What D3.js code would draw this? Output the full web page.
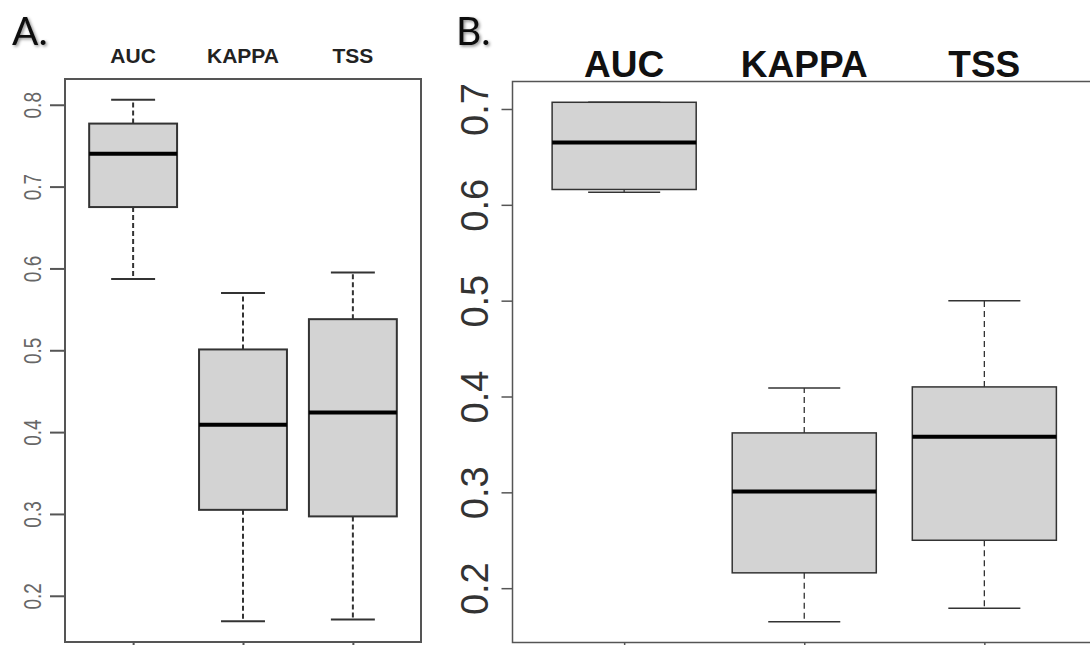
<!DOCTYPE html>
<html>
<head>
<meta charset="utf-8">
<script src="https://cdn.jsdelivr.net/npm/d3@7"></script>
<style>
  html, body { margin: 0; padding: 0; background: #fff; }
  svg { display: block; }
</style>
</head>
<body>
<svg id="chart" width="1090" height="645"></svg>
<script>
// Metric names shared by both panels
const categories = ["AUC", "KAPPA", "TSS"];

// Panel A: five-number summaries per metric
const aLow    = [0.587, 0.169, 0.171];
const aQ1     = [0.675, 0.305, 0.297];
const aMedian = [0.740, 0.409, 0.424];
const aQ3     = [0.777, 0.501, 0.538];
const aHigh   = [0.806, 0.570, 0.595];
const aTicks  = [0.2, 0.3, 0.4, 0.5, 0.6, 0.7, 0.8];

// Panel B: five-number summaries per metric
const bLow    = [0.613, 0.165, 0.179];
const bQ1     = [0.616, 0.216, 0.250];
const bMedian = [0.665, 0.301, 0.358];
const bQ3     = [0.707, 0.362, 0.410];
const bHigh   = [0.707, 0.409, 0.500];
const bTicks  = [0.2, 0.3, 0.4, 0.5, 0.6, 0.7];

const svg = d3.select("#chart");
svg.append("rect").attr("width", 1090).attr("height", 645).attr("fill", "#fff");

// soft shadow used on the panel letters
const defs = svg.append("defs");
const shadow = defs.append("filter").attr("id", "soft").attr("x", "-20%").attr("y", "-20%")
  .attr("width", "150%").attr("height", "150%");
shadow.append("feDropShadow").attr("dx", 1.5).attr("dy", 1.5).attr("stdDeviation", 1.4)
  .attr("flood-color", "#000").attr("flood-opacity", 0.45);

function rows(low, q1, med, q3, high) {
  return categories.map((c, i) => ({ c, i: i + 1, low: low[i], q1: q1[i], med: med[i], q3: q3[i], high: high[i] }));
}

function panel(cfg) {
  const data = rows(...cfg.stats);
  const lo = d3.min(data, d => d.low), hi = d3.max(data, d => d.high);
  const pad = (hi - lo) * 0.04;
  const y = d3.scaleLinear().domain([lo - pad, hi + pad]).range([cfg.bottom, cfg.top]);
  const x = d3.scaleLinear().domain([0.5 - 0.12, categories.length + 0.5 + 0.12]).range([cfg.left, cfg.right]);
  const bw = (x(1.4) - x(1.0)); // half box width
  const g = svg.append("g");

  const box = g.selectAll("g.box").data(data).join("g").attr("class", "box");

  // dashed whiskers
  box.append("line")
    .attr("x1", d => x(d.i)).attr("x2", d => x(d.i))
    .attr("y1", d => y(d.q3)).attr("y2", d => y(d.high))
    .attr("stroke", cfg.ink).attr("stroke-width", cfg.whiskerWidth).attr("stroke-dasharray", cfg.dash);
  box.append("line")
    .attr("x1", d => x(d.i)).attr("x2", d => x(d.i))
    .attr("y1", d => y(d.q1)).attr("y2", d => y(d.low))
    .attr("stroke", cfg.ink).attr("stroke-width", cfg.whiskerWidth).attr("stroke-dasharray", cfg.dash);
  // staples
  box.append("line")
    .attr("x1", d => x(d.i) - bw / 2).attr("x2", d => x(d.i) + bw / 2)
    .attr("y1", d => y(d.high)).attr("y2", d => y(d.high))
    .attr("stroke", cfg.ink).attr("stroke-width", cfg.stapleWidth);
  box.append("line")
    .attr("x1", d => x(d.i) - bw / 2).attr("x2", d => x(d.i) + bw / 2)
    .attr("y1", d => y(d.low)).attr("y2", d => y(d.low))
    .attr("stroke", cfg.ink).attr("stroke-width", cfg.stapleWidth);
  // interquartile box
  box.append("rect")
    .attr("x", d => x(d.i) - bw).attr("width", 2 * bw)
    .attr("y", d => y(d.q3)).attr("height", d => y(d.q1) - y(d.q3))
    .attr("fill", "#d3d3d3").attr("stroke", cfg.ink).attr("stroke-width", cfg.boxWidth);
  // median
  box.append("line")
    .attr("x1", d => x(d.i) - bw).attr("x2", d => x(d.i) + bw)
    .attr("y1", d => y(d.med)).attr("y2", d => y(d.med))
    .attr("stroke", "#000").attr("stroke-width", cfg.medianWidth);

  // frame
  g.append("rect")
    .attr("x", cfg.left).attr("y", cfg.top)
    .attr("width", cfg.right - cfg.left).attr("height", cfg.bottom - cfg.top)
    .attr("fill", "none").attr("stroke", cfg.frame).attr("stroke-width", cfg.frameWidth);

  // y axis with rotated labels
  const yAxis = d3.axisLeft(y).tickValues(cfg.ticks).tickSize(cfg.tickLen).tickPadding(cfg.tickPad)
    .tickFormat(d3.format(".1f"));
  const ya = g.append("g").attr("transform", `translate(${cfg.left},0)`).call(yAxis);
  ya.select(".domain").remove();
  ya.selectAll(".tick line").attr("stroke", cfg.frame).attr("stroke-width", cfg.frameWidth);
  ya.selectAll(".tick text")
    .attr("x", null).attr("dy", null)
    .attr("transform", `translate(${-cfg.tickLen - cfg.tickPad},0) rotate(-90) scale(1,${cfg.tickStretch})`)
    .attr("text-anchor", "middle")
    .attr("font-family", "Liberation Sans, Arial, sans-serif")
    .attr("font-size", cfg.tickFont)
    .attr("fill", cfg.tickColor);

  // x axis ticks (no labels)
  const xAxis = d3.axisBottom(x).tickValues(d3.range(1, categories.length + 1)).tickSize(8).tickFormat("");
  const xa = g.append("g").attr("transform", `translate(0,${cfg.bottom})`).call(xAxis);
  xa.select(".domain").remove();
  xa.selectAll(".tick line").attr("stroke", cfg.frame).attr("stroke-width", cfg.frameWidth);

  // metric names over the boxes
  g.selectAll("text.metric").data(data).join("text").attr("class", "metric")
    .attr("x", d => x(d.i)).attr("y", cfg.labelBase)
    .attr("text-anchor", "middle")
    .attr("font-family", "Liberation Sans, Arial, sans-serif")
    .attr("font-weight", "bold")
    .attr("font-size", cfg.labelFont)
    .attr("fill", cfg.labelColor)
    .text(d => d.c);

  // panel letter
  g.append("text")
    .attr("x", cfg.letterX).attr("y", 45)
    .attr("font-family", "Lato, 'Open Sans', sans-serif")
    .attr("font-size", 39)
    .attr("fill", "#111")
    .attr("filter", "url(#soft)")
    .text(cfg.letter);
}

panel({
  stats: [aLow, aQ1, aMedian, aQ3, aHigh], ticks: aTicks,
  left: 65, right: 421, top: 79, bottom: 642,
  ink: "#333", frame: "#555", frameWidth: 2, boxWidth: 2, whiskerWidth: 2, stapleWidth: 2,
  medianWidth: 4, dash: "5,3",
  tickLen: 15, tickPad: 9, tickFont: 19, tickStretch: 1.25, tickColor: "#666",
  labelBase: 63, labelFont: 21, labelColor: "#222",
  letter: "A.", letterX: 12
});

panel({
  stats: [bLow, bQ1, bMedian, bQ3, bHigh], ticks: bTicks,
  left: 512.5, right: 1096, top: 81.5, bottom: 642.5,
  ink: "#333", frame: "#555", frameWidth: 1.5, boxWidth: 1.5, whiskerWidth: 1.3, stapleWidth: 1.5,
  medianWidth: 4, dash: "6,4",
  tickLen: 11, tickPad: 14, tickFont: 38, tickStretch: 1, tickColor: "#333",
  labelBase: 77, labelFont: 37, labelColor: "#111",
  letter: "B.", letterX: 456
});
</script>
</body>
</html>
